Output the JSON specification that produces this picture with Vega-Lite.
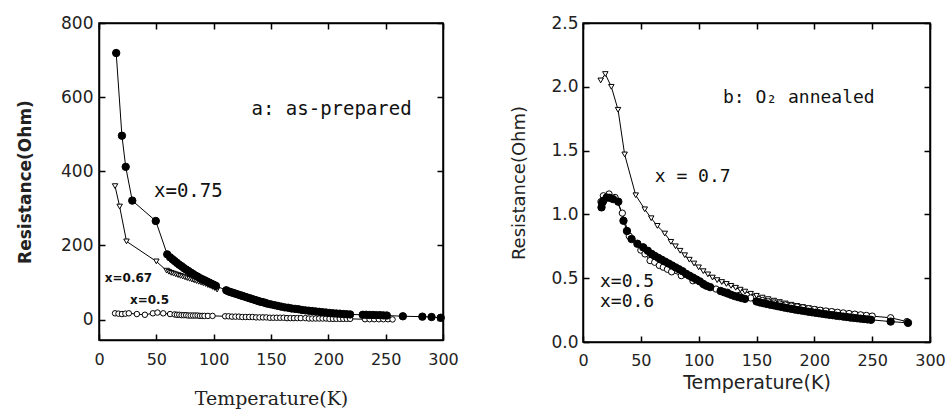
{
  "$schema": "https://vega.github.io/schema/vega-lite/v6.json",
  "padding": {"left": 15, "top": 13, "right": 5, "bottom": 5},
  "background": "white",
  "spacing": 50,
  "config": {
    "view": {"stroke": "black", "strokeWidth": 1.5},
    "axis": {"grid": false, "domainColor": "black", "domainWidth": 1.5, "tickColor": "black", "tickWidth": 1.5, "labelColor": "#222", "titleColor": "#222", "labelFont": "DejaVu Sans", "titleFont": "DejaVu Sans", "labelFontSize": 16, "labelFlush": false}
  },
  "datasets": {
    "a": [
      {"s":"0.75","T":15,"R":719},{"s":"0.75","T":20,"R":496},{"s":"0.75","T":23.3,"R":412},{"s":"0.75","T":29,"R":321},{"s":"0.75","T":49.5,"R":266},{"s":"0.75","T":59.5,"R":176},{"s":"0.75","T":62,"R":168},{"s":"0.75","T":64,"R":163},{"s":"0.75","T":66,"R":158},{"s":"0.75","T":68,"R":153},{"s":"0.75","T":70,"R":148},{"s":"0.75","T":72,"R":144},{"s":"0.75","T":74,"R":139},{"s":"0.75","T":76,"R":135},{"s":"0.75","T":78,"R":131},{"s":"0.75","T":80,"R":127},{"s":"0.75","T":82,"R":123},{"s":"0.75","T":84,"R":119},{"s":"0.75","T":86,"R":116},{"s":"0.75","T":88,"R":112},{"s":"0.75","T":90,"R":109},{"s":"0.75","T":92,"R":106},{"s":"0.75","T":94,"R":103},{"s":"0.75","T":96,"R":100},{"s":"0.75","T":98,"R":97},{"s":"0.75","T":100,"R":94},{"s":"0.75","T":102,"R":91},
      {"s":"0.75","T":111,"R":79},{"s":"0.75","T":113,"R":76},{"s":"0.75","T":115,"R":74},{"s":"0.75","T":117,"R":72},{"s":"0.75","T":119,"R":70},{"s":"0.75","T":121,"R":68},{"s":"0.75","T":123,"R":66},{"s":"0.75","T":125,"R":64},{"s":"0.75","T":127,"R":62},{"s":"0.75","T":129,"R":60},{"s":"0.75","T":131,"R":58},{"s":"0.75","T":133,"R":56},{"s":"0.75","T":135,"R":54},{"s":"0.75","T":137,"R":52},{"s":"0.75","T":139,"R":50},{"s":"0.75","T":141,"R":48},{"s":"0.75","T":143,"R":47},{"s":"0.75","T":145,"R":45},{"s":"0.75","T":147,"R":43},{"s":"0.75","T":150,"R":41},{"s":"0.75","T":153,"R":39},{"s":"0.75","T":156,"R":37},{"s":"0.75","T":159,"R":35},{"s":"0.75","T":162,"R":33},{"s":"0.75","T":165,"R":32},{"s":"0.75","T":168,"R":30},{"s":"0.75","T":171,"R":29},{"s":"0.75","T":174,"R":28},{"s":"0.75","T":177,"R":26},{"s":"0.75","T":180,"R":25},{"s":"0.75","T":183,"R":24},{"s":"0.75","T":186,"R":23},{"s":"0.75","T":189,"R":22},{"s":"0.75","T":192,"R":21},{"s":"0.75","T":195,"R":20},{"s":"0.75","T":198,"R":19},{"s":"0.75","T":201,"R":18},{"s":"0.75","T":204,"R":17},{"s":"0.75","T":207,"R":16.5},{"s":"0.75","T":210,"R":16},{"s":"0.75","T":213,"R":15},{"s":"0.75","T":216,"R":14.5},{"s":"0.75","T":219,"R":14},
      {"s":"0.75","T":230,"R":13},{"s":"0.75","T":233,"R":13},{"s":"0.75","T":236,"R":12.5},{"s":"0.75","T":239,"R":12.5},{"s":"0.75","T":242,"R":12},{"s":"0.75","T":245,"R":12},{"s":"0.75","T":248,"R":11.5},{"s":"0.75","T":251,"R":11},{"s":"0.75","T":265,"R":9},{"s":"0.75","T":282,"R":8},{"s":"0.75","T":290,"R":7},{"s":"0.75","T":298,"R":5},
      {"s":"0.67","T":14,"R":360},{"s":"0.67","T":18,"R":305},{"s":"0.67","T":24,"R":211},{"s":"0.67","T":50,"R":157},{"s":"0.67","T":59,"R":132},{"s":"0.67","T":61,"R":129},{"s":"0.67","T":63,"R":126},{"s":"0.67","T":65,"R":124},{"s":"0.67","T":67,"R":122},{"s":"0.67","T":69,"R":120},{"s":"0.67","T":71,"R":118},{"s":"0.67","T":73,"R":116},{"s":"0.67","T":75,"R":114},{"s":"0.67","T":77,"R":112},{"s":"0.67","T":79,"R":110},{"s":"0.67","T":81,"R":108},{"s":"0.67","T":83,"R":106},{"s":"0.67","T":85,"R":104},{"s":"0.67","T":87,"R":102},{"s":"0.67","T":89,"R":100},{"s":"0.67","T":91,"R":98},{"s":"0.67","T":93,"R":96},{"s":"0.67","T":95,"R":93},{"s":"0.67","T":97,"R":91},{"s":"0.67","T":99,"R":88},{"s":"0.67","T":101,"R":85},{"s":"0.67","T":103,"R":81},
      {"s":"0.5","T":14,"R":17},{"s":"0.5","T":17,"R":16},{"s":"0.5","T":20,"R":15},{"s":"0.5","T":23,"R":16},{"s":"0.5","T":26,"R":17},{"s":"0.5","T":33,"R":15},{"s":"0.5","T":40,"R":13},{"s":"0.5","T":47,"R":17},{"s":"0.5","T":51,"R":19},{"s":"0.5","T":56,"R":17},{"s":"0.5","T":62,"R":15},{"s":"0.5","T":66,"R":14},{"s":"0.5","T":68,"R":13},{"s":"0.5","T":70,"R":13},{"s":"0.5","T":72,"R":12},{"s":"0.5","T":74,"R":12},{"s":"0.5","T":76,"R":12},{"s":"0.5","T":78,"R":11},{"s":"0.5","T":80,"R":11},{"s":"0.5","T":82,"R":11},{"s":"0.5","T":84,"R":11},{"s":"0.5","T":86,"R":11},{"s":"0.5","T":88,"R":10},{"s":"0.5","T":90,"R":10},{"s":"0.5","T":92,"R":10},{"s":"0.5","T":95,"R":10},{"s":"0.5","T":99,"R":10},
      {"s":"0.5","T":110,"R":9},{"s":"0.5","T":113,"R":9},{"s":"0.5","T":116,"R":8},{"s":"0.5","T":119,"R":8},{"s":"0.5","T":122,"R":8},{"s":"0.5","T":125,"R":7},{"s":"0.5","T":128,"R":7},{"s":"0.5","T":131,"R":7},{"s":"0.5","T":134,"R":7},{"s":"0.5","T":137,"R":6},{"s":"0.5","T":140,"R":6},{"s":"0.5","T":143,"R":6},{"s":"0.5","T":146,"R":6},{"s":"0.5","T":149,"R":5},{"s":"0.5","T":152,"R":5},{"s":"0.5","T":155,"R":5},{"s":"0.5","T":158,"R":5},{"s":"0.5","T":161,"R":5},{"s":"0.5","T":164,"R":4},{"s":"0.5","T":167,"R":4},{"s":"0.5","T":170,"R":4},{"s":"0.5","T":173,"R":4},{"s":"0.5","T":176,"R":4},{"s":"0.5","T":180,"R":4},{"s":"0.5","T":183,"R":3},{"s":"0.5","T":186,"R":3},{"s":"0.5","T":189,"R":3},{"s":"0.5","T":192,"R":3},{"s":"0.5","T":195,"R":3},{"s":"0.5","T":198,"R":3},{"s":"0.5","T":201,"R":2},{"s":"0.5","T":204,"R":2},{"s":"0.5","T":207,"R":2},{"s":"0.5","T":210,"R":2},{"s":"0.5","T":213,"R":2},{"s":"0.5","T":216,"R":2},{"s":"0.5","T":219,"R":2},{"s":"0.5","T":232,"R":1},{"s":"0.5","T":236,"R":1},{"s":"0.5","T":240,"R":1},{"s":"0.5","T":244,"R":1},{"s":"0.5","T":248,"R":1},{"s":"0.5","T":252,"R":1},{"s":"0.5","T":256,"R":0.5}
    ],
    "b": [
      {"s":"0.7","T":15.3,"R":2.05},{"s":"0.7","T":19.3,"R":2.1},{"s":"0.7","T":24.5,"R":2.0},{"s":"0.7","T":30.3,"R":1.82},{"s":"0.7","T":36,"R":1.47},{"s":"0.7","T":45.6,"R":1.15},{"s":"0.7","T":53.4,"R":1.04},{"s":"0.7","T":59,"R":0.97},{"s":"0.7","T":64.3,"R":0.91},{"s":"0.7","T":70.7,"R":0.85},{"s":"0.7","T":76,"R":0.785},{"s":"0.7","T":80,"R":0.75},{"s":"0.7","T":84,"R":0.715},{"s":"0.7","T":88,"R":0.68},{"s":"0.7","T":92,"R":0.645},{"s":"0.7","T":96,"R":0.615},{"s":"0.7","T":100,"R":0.585},{"s":"0.7","T":104,"R":0.555},{"s":"0.7","T":108,"R":0.53},{"s":"0.7","T":112,"R":0.505},{"s":"0.7","T":116,"R":0.485},{"s":"0.7","T":120,"R":0.47},{"s":"0.7","T":124,"R":0.455},{"s":"0.7","T":128,"R":0.44},{"s":"0.7","T":132,"R":0.425},{"s":"0.7","T":136,"R":0.41},{"s":"0.7","T":140,"R":0.395},{"s":"0.7","T":145,"R":0.378},{"s":"0.7","T":150,"R":0.362},{"s":"0.7","T":155,"R":0.348},{"s":"0.7","T":160,"R":0.336},{"s":"0.7","T":165,"R":0.324},{"s":"0.7","T":170,"R":0.313},{"s":"0.7","T":175,"R":0.302},{"s":"0.7","T":180,"R":0.292},{"s":"0.7","T":185,"R":0.283},{"s":"0.7","T":190,"R":0.274},{"s":"0.7","T":195,"R":0.266},{"s":"0.7","T":200,"R":0.258},{"s":"0.7","T":205,"R":0.251},{"s":"0.7","T":210,"R":0.244},{"s":"0.7","T":215,"R":0.238},{"s":"0.7","T":220,"R":0.232},{"s":"0.7","T":225,"R":0.226},{"s":"0.7","T":230,"R":0.221},{"s":"0.7","T":235,"R":0.216},{"s":"0.7","T":240,"R":0.211},{"s":"0.7","T":245,"R":0.206},{"s":"0.7","T":250,"R":0.2},
      {"s":"0.6","T":16,"R":1.055},{"s":"0.6","T":16.5,"R":1.09},{"s":"0.6","T":17.6,"R":1.107},{"s":"0.6","T":20.5,"R":1.133},{"s":"0.6","T":23,"R":1.13},{"s":"0.6","T":26,"R":1.12},{"s":"0.6","T":30.5,"R":1.1},{"s":"0.6","T":35,"R":0.95},{"s":"0.6","T":38,"R":0.87},{"s":"0.6","T":42,"R":0.807},{"s":"0.6","T":47,"R":0.77},{"s":"0.6","T":52,"R":0.742},{"s":"0.6","T":56,"R":0.715},{"s":"0.6","T":59.4,"R":0.69},{"s":"0.6","T":62,"R":0.675},{"s":"0.6","T":65,"R":0.66},{"s":"0.6","T":68,"R":0.645},{"s":"0.6","T":71,"R":0.63},{"s":"0.6","T":74,"R":0.615},{"s":"0.6","T":77,"R":0.6},{"s":"0.6","T":80,"R":0.585},{"s":"0.6","T":83,"R":0.57},{"s":"0.6","T":86,"R":0.555},{"s":"0.6","T":89,"R":0.535},{"s":"0.6","T":92,"R":0.52},{"s":"0.6","T":95,"R":0.505},{"s":"0.6","T":98,"R":0.49},{"s":"0.6","T":101,"R":0.475},{"s":"0.6","T":104,"R":0.455},{"s":"0.6","T":107,"R":0.44},{"s":"0.6","T":110,"R":0.43},{"s":"0.6","T":119,"R":0.4},{"s":"0.6","T":122,"R":0.39},{"s":"0.6","T":125,"R":0.38},{"s":"0.6","T":128,"R":0.37},{"s":"0.6","T":131,"R":0.36},{"s":"0.6","T":134,"R":0.352},{"s":"0.6","T":137,"R":0.345},{"s":"0.6","T":140,"R":0.338},{"s":"0.6","T":150,"R":0.318},{"s":"0.6","T":153,"R":0.31},{"s":"0.6","T":156,"R":0.304},{"s":"0.6","T":159,"R":0.298},{"s":"0.6","T":162,"R":0.292},{"s":"0.6","T":165,"R":0.287},{"s":"0.6","T":168,"R":0.281},{"s":"0.6","T":171,"R":0.276},{"s":"0.6","T":174,"R":0.27},{"s":"0.6","T":177,"R":0.265},{"s":"0.6","T":180,"R":0.26},{"s":"0.6","T":183,"R":0.255},{"s":"0.6","T":186,"R":0.25},{"s":"0.6","T":189,"R":0.246},{"s":"0.6","T":192,"R":0.242},{"s":"0.6","T":195,"R":0.237},{"s":"0.6","T":198,"R":0.233},{"s":"0.6","T":201,"R":0.229},{"s":"0.6","T":204,"R":0.225},{"s":"0.6","T":207,"R":0.221},{"s":"0.6","T":210,"R":0.217},{"s":"0.6","T":213,"R":0.213},{"s":"0.6","T":216,"R":0.21},{"s":"0.6","T":219,"R":0.206},{"s":"0.6","T":222,"R":0.203},{"s":"0.6","T":225,"R":0.199},{"s":"0.6","T":228,"R":0.196},{"s":"0.6","T":231,"R":0.192},{"s":"0.6","T":234,"R":0.189},{"s":"0.6","T":237,"R":0.186},{"s":"0.6","T":240,"R":0.183},{"s":"0.6","T":243,"R":0.18},{"s":"0.6","T":246,"R":0.177},{"s":"0.6","T":249,"R":0.174},{"s":"0.6","T":266,"R":0.16},{"s":"0.6","T":281,"R":0.15},
      {"s":"0.5","T":15.5,"R":1.1},{"s":"0.5","T":17.6,"R":1.146},{"s":"0.5","T":22.5,"R":1.16},{"s":"0.5","T":27.7,"R":1.133},{"s":"0.5","T":34,"R":1.01},{"s":"0.5","T":40,"R":0.83},{"s":"0.5","T":50,"R":0.72},{"s":"0.5","T":53.6,"R":0.69},{"s":"0.5","T":58,"R":0.638},{"s":"0.5","T":62,"R":0.625},{"s":"0.5","T":66,"R":0.6},{"s":"0.5","T":69.4,"R":0.586},{"s":"0.5","T":73,"R":0.57},{"s":"0.5","T":76.6,"R":0.55},{"s":"0.5","T":85,"R":0.52},{"s":"0.5","T":95,"R":0.48},{"s":"0.5","T":105,"R":0.445},{"s":"0.5","T":115,"R":0.415},{"s":"0.5","T":125,"R":0.39},{"s":"0.5","T":135,"R":0.365},{"s":"0.5","T":145,"R":0.345},{"s":"0.5","T":155,"R":0.325},{"s":"0.5","T":160,"R":0.315},{"s":"0.5","T":165,"R":0.306},{"s":"0.5","T":170,"R":0.298},{"s":"0.5","T":175,"R":0.29},{"s":"0.5","T":180,"R":0.282},{"s":"0.5","T":185,"R":0.275},{"s":"0.5","T":190,"R":0.268},{"s":"0.5","T":195,"R":0.261},{"s":"0.5","T":200,"R":0.255},{"s":"0.5","T":205,"R":0.249},{"s":"0.5","T":210,"R":0.243},{"s":"0.5","T":215,"R":0.238},{"s":"0.5","T":220,"R":0.233},{"s":"0.5","T":225,"R":0.228},{"s":"0.5","T":230,"R":0.223},{"s":"0.5","T":235,"R":0.218},{"s":"0.5","T":240,"R":0.213},{"s":"0.5","T":245,"R":0.208},{"s":"0.5","T":250,"R":0.203},{"s":"0.5","T":266,"R":0.19},{"s":"0.5","T":280,"R":0.16}
    ]
  },
  "hconcat": [
    {
      "width": 344,
      "height": 317,
      "data": {"name": "a"},
      "resolve": {"axis": {"x": "independent", "y": "independent"}},
      "layer": [
        {
          "mark": {"type": "line", "color": "black", "strokeWidth": 1},
          "encoding": {
            "x": {"field": "T", "type": "quantitative", "scale": {"domain": [0, 300], "nice": false, "zero": false},
              "axis": {"orient": "bottom", "values": [0, 50, 100, 150, 200, 250, 300], "tickSize": -6, "labelPadding": 17, "title": "Temperature(K)", "titleFont": "DejaVu Serif", "titleFontSize": 19, "titleFontWeight": "normal", "titlePadding": 22}},
            "y": {"field": "R", "type": "quantitative", "scale": {"domain": [-55, 800], "nice": false, "zero": false},
              "axis": {"orient": "left", "values": [0, 200, 400, 600, 800], "tickSize": -6, "labelPadding": 12, "labelFontSize": 17, "title": "Resistance(Ohm)", "titleFontSize": 17, "titleFontWeight": "bold", "titlePadding": 26}},
            "detail": {"field": "s"}
          }
        },
        {
          "mark": {"type": "point", "opacity": 0},
          "encoding": {
            "x": {"field": "T", "type": "quantitative", "axis": {"orient": "top", "values": [0, 50, 100, 150, 200, 250, 300], "tickSize": -6, "labels": false, "title": null}},
            "y": {"field": "R", "type": "quantitative", "axis": {"orient": "right", "values": [0, 200, 400, 600, 800], "tickSize": -6, "labels": false, "title": null}}
          }
        },
        {
          "transform": [{"filter": {"field": "s", "equal": "0.5"}}],
          "mark": {"type": "point", "shape": "circle", "filled": true, "fill": "white", "stroke": "black", "strokeWidth": 1, "size": 30, "opacity": 1},
          "encoding": {"x": {"field": "T", "type": "quantitative", "axis": null}, "y": {"field": "R", "type": "quantitative", "axis": null}}
        },
        {
          "transform": [{"filter": {"field": "s", "equal": "0.67"}}],
          "mark": {"type": "point", "shape": "triangle-down", "filled": true, "fill": "white", "stroke": "black", "strokeWidth": 1, "size": 30, "opacity": 1},
          "encoding": {"x": {"field": "T", "type": "quantitative", "axis": null}, "y": {"field": "R", "type": "quantitative", "axis": null}}
        },
        {
          "transform": [{"filter": {"field": "s", "equal": "0.75"}}],
          "mark": {"type": "point", "shape": "circle", "filled": true, "fill": "black", "stroke": "black", "strokeWidth": 1, "size": 55, "opacity": 1},
          "encoding": {"x": {"field": "T", "type": "quantitative", "axis": null}, "y": {"field": "R", "type": "quantitative", "axis": null}}
        },
        {
          "data": {"values": [{}]},
          "mark": {"type": "text", "text": "a: as-prepared", "font": "DejaVu Sans Mono", "fontSize": 19, "align": "left", "baseline": "middle", "color": "#111"},
          "encoding": {"x": {"datum": 133, "type": "quantitative", "axis": null}, "y": {"datum": 568, "type": "quantitative", "axis": null}}
        },
        {
          "data": {"values": [{}]},
          "mark": {"type": "text", "text": "x=0.75", "font": "DejaVu Sans Mono", "fontSize": 19, "align": "left", "baseline": "middle", "color": "#111"},
          "encoding": {"x": {"datum": 48, "type": "quantitative", "axis": null}, "y": {"datum": 347, "type": "quantitative", "axis": null}}
        },
        {
          "data": {"values": [{}]},
          "mark": {"type": "text", "text": "x=0.67", "font": "DejaVu Sans", "fontSize": 12, "fontWeight": "bold", "align": "left", "baseline": "middle", "color": "#111"},
          "encoding": {"x": {"datum": 5, "type": "quantitative", "axis": null}, "y": {"datum": 112, "type": "quantitative", "axis": null}}
        },
        {
          "data": {"values": [{}]},
          "mark": {"type": "text", "text": "x=0.5", "font": "DejaVu Sans", "fontSize": 12, "fontWeight": "bold", "align": "left", "baseline": "middle", "color": "#111"},
          "encoding": {"x": {"datum": 27, "type": "quantitative", "axis": null}, "y": {"datum": 52, "type": "quantitative", "axis": null}}
        }
      ]
    },
    {
      "width": 347,
      "height": 319,
      "data": {"name": "b"},
      "resolve": {"axis": {"x": "independent", "y": "independent"}},
      "layer": [
        {
          "mark": {"type": "line", "color": "black", "strokeWidth": 1},
          "encoding": {
            "x": {"field": "T", "type": "quantitative", "scale": {"domain": [0, 300], "nice": false, "zero": false},
              "axis": {"orient": "bottom", "values": [0, 50, 100, 150, 200, 250, 300], "tickSize": -6, "labelPadding": 16, "title": "Temperature(K)", "titleFont": "DejaVu Sans", "titleFontSize": 19, "titleFontWeight": "normal", "titlePadding": 5}},
            "y": {"field": "R", "type": "quantitative", "scale": {"domain": [0, 2.5], "nice": false, "zero": false},
              "axis": {"orient": "left", "values": [0, 0.5, 1, 1.5, 2, 2.5], "format": ".1f", "tickSize": -6, "labelPadding": 11, "labelFontSize": 17, "title": "Resistance(Ohm)", "titleFontSize": 18, "titleFontWeight": "normal", "titlePadding": 22}},
            "detail": {"field": "s"}
          }
        },
        {
          "mark": {"type": "point", "opacity": 0},
          "encoding": {
            "x": {"field": "T", "type": "quantitative", "axis": {"orient": "top", "values": [0, 50, 100, 150, 200, 250, 300], "tickSize": -6, "labels": false, "title": null}},
            "y": {"field": "R", "type": "quantitative", "axis": {"orient": "right", "values": [0, 0.5, 1, 1.5, 2, 2.5], "tickSize": -6, "labels": false, "title": null}}
          }
        },
        {
          "transform": [{"filter": {"field": "s", "equal": "0.7"}}],
          "mark": {"type": "point", "shape": "triangle-down", "filled": true, "fill": "white", "stroke": "black", "strokeWidth": 1, "size": 30, "opacity": 1},
          "encoding": {"x": {"field": "T", "type": "quantitative", "axis": null}, "y": {"field": "R", "type": "quantitative", "axis": null}}
        },
        {
          "transform": [{"filter": {"field": "s", "equal": "0.5"}}],
          "mark": {"type": "point", "shape": "circle", "filled": true, "fill": "white", "stroke": "black", "strokeWidth": 1, "size": 40, "opacity": 1},
          "encoding": {"x": {"field": "T", "type": "quantitative", "axis": null}, "y": {"field": "R", "type": "quantitative", "axis": null}}
        },
        {
          "transform": [{"filter": {"field": "s", "equal": "0.6"}}],
          "mark": {"type": "point", "shape": "circle", "filled": true, "fill": "black", "stroke": "black", "strokeWidth": 1, "size": 55, "opacity": 1},
          "encoding": {"x": {"field": "T", "type": "quantitative", "axis": null}, "y": {"field": "R", "type": "quantitative", "axis": null}}
        },
        {
          "data": {"values": [{}]},
          "mark": {"type": "text", "text": "b: O₂ annealed", "font": "DejaVu Sans Mono", "fontSize": 18, "align": "left", "baseline": "middle", "color": "#111"},
          "encoding": {"x": {"datum": 121, "type": "quantitative", "axis": null}, "y": {"datum": 1.91, "type": "quantitative", "axis": null}}
        },
        {
          "data": {"values": [{}]},
          "mark": {"type": "text", "text": "x = 0.7", "font": "DejaVu Sans Mono", "fontSize": 18, "align": "left", "baseline": "middle", "color": "#111"},
          "encoding": {"x": {"datum": 62, "type": "quantitative", "axis": null}, "y": {"datum": 1.29, "type": "quantitative", "axis": null}}
        },
        {
          "data": {"values": [{}]},
          "mark": {"type": "text", "text": "x=0.5", "font": "DejaVu Sans Mono", "fontSize": 18, "align": "left", "baseline": "middle", "color": "#111"},
          "encoding": {"x": {"datum": 14.7, "type": "quantitative", "axis": null}, "y": {"datum": 0.47, "type": "quantitative", "axis": null}}
        },
        {
          "data": {"values": [{}]},
          "mark": {"type": "text", "text": "x=0.6", "font": "DejaVu Sans Mono", "fontSize": 18, "align": "left", "baseline": "middle", "color": "#111"},
          "encoding": {"x": {"datum": 14.7, "type": "quantitative", "axis": null}, "y": {"datum": 0.31, "type": "quantitative", "axis": null}}
        }
      ]
    }
  ]
}
